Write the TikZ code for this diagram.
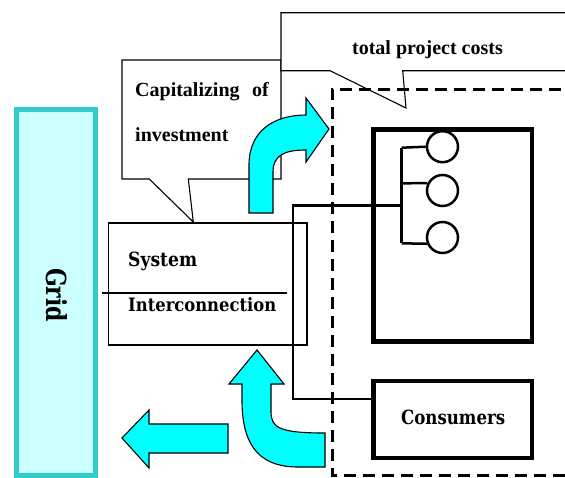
\documentclass[tikz,border=0pt]{standalone}
\usepackage{fontspec}
\usepackage{graphicx}
\setmainfont{Liberation Serif}
\newfontfamily\slab{DejaVu Serif}
\definecolor{gridfill}{HTML}{CCFFFF}
\definecolor{gridedge}{HTML}{33CCCC}
\definecolor{flow}{HTML}{00FFFF}
% slab label squeezed into a given width and cap height
\newcommand{\slablabel}[3]{\resizebox{#1}{#2}{\slab\bfseries\fontsize{18}{22}\selectfont #3}}
\begin{document}
\begin{tikzpicture}[x=1pt,y=-1pt,
  callout/.style={draw=black,fill=white,line width=1.1pt},
  calltext/.style={font=\bfseries\fontsize{20}{24}\selectfont,anchor=base west,inner sep=0pt},
  slabtext/.style={anchor=base west,inner sep=0pt},
  flowarrow/.style={draw=black,fill=flow,line width=1.1pt,line join=miter},
  wire/.style={line width=2.5pt},
  unit/.style={draw=black,line width=4.5pt},
  lamp/.style={circle,draw=black,line width=2.5pt,minimum size=31pt,inner sep=0pt},
  bound/.style={line width=3pt,dash pattern=on 12pt off 7pt}]
\useasboundingbox (0,0) rectangle (565,477);
\clip (0,0) rectangle (565,477);

% grid bar
\draw[gridedge,fill=gridfill,line width=5pt] (16.5,109) rectangle (95.5,475);
\node[rotate=-90,inner sep=0pt] (grid) at (57,295) {\slablabel{54pt}{21pt}{Grid}};

% speech bubbles
\draw[callout] (122,60) -- (281,60) -- (281,179) -- (188.3,179) -- (193.3,222)
  -- (149.3,179) -- (122,179) -- cycle;
\node[calltext] (capa) at (135,96.7) {Capitalizing};
\node[calltext,anchor=base east] (capb) at (269,96.7) {of};
\node[calltext] (capc) at (135,141.7) {investment};

\draw[callout] (281,12.7) -- (580,12.7) -- (580,70.7) -- (402.7,70.7) -- (406,108)
  -- (330,70.7) -- (281,70.7) -- cycle;
\node[calltext,anchor=base] (cost) at (427.5,54) {total project costs};

% project boundary
\draw[bound] (580,89) -- (332,89) -- (332,475) -- (580,475);

% system interconnection
\draw[line width=1.1pt] (108.5,223) rectangle (307,345);
\draw[line width=2pt] (102,293) -- (287,293);
\node[slabtext] (sys) at (128,266) {\slablabel{69pt}{14.5pt}{System}};
\node[slabtext] (ic) at (128,311.5) {\slablabel{148pt}{14pt}{Interconnection}};

% plant and consumers
\node[unit,minimum width=158.5pt,minimum height=212pt,inner sep=0pt] (plant) at (452.75,235.5) {};
\node[unit,minimum width=158.5pt,minimum height=77pt,inner sep=0pt] (cons) at (452.75,419.5) {};
\node[slabtext] (constext) at (401,424) {\slablabel{104pt}{14.5pt}{Consumers}};

\node[lamp] (l1) at (442.5,146.7) {};
\node[lamp] (l2) at (442.5,190.5) {};
\node[lamp] (l3) at (442.5,237.5) {};

\coordinate (bt) at (401.7,147.7);
\coordinate (bm) at (401.7,183.3);
\coordinate (bb) at (401.7,243.3);
\coordinate (feed) at (401.7,205.7);
\coordinate (tap) at (293,205.7);
\coordinate (drop) at (293,399);

\draw[wire] (bt) -- (bb);
\draw[wire] (bt) -- (l1.180);
\draw[wire] (bm) -- (l2.154);
\draw[wire] (bb) -- (l3.202);
\draw[wire] (feed) -- (tap) -- (drop) -- (drop -| cons.west);

% flow arrows
\draw[flowarrow] (249,213) -- (249,165) .. controls (249,130) and (275,115) .. (306,115)
  -- (306,98) -- (329,129) -- (306,162) -- (306,150)
  .. controls (285,150) and (273,155) .. (273,172) -- (273,213) -- cycle;
\draw[flowarrow] (257,350) -- (284,384) -- (271,384) -- (271,412)
  .. controls (271,428) and (280,433) .. (325,433) -- (325,467) -- (298,467)
  .. controls (255,467) and (242,440) .. (242,400) -- (242,384) -- (229,384) -- cycle;
\draw[flowarrow] (122,438) -- (149,410) -- (149,424) -- (228,424) -- (228,453)
  -- (149,453) -- (149,468) -- cycle;
\end{tikzpicture}
\end{document}
